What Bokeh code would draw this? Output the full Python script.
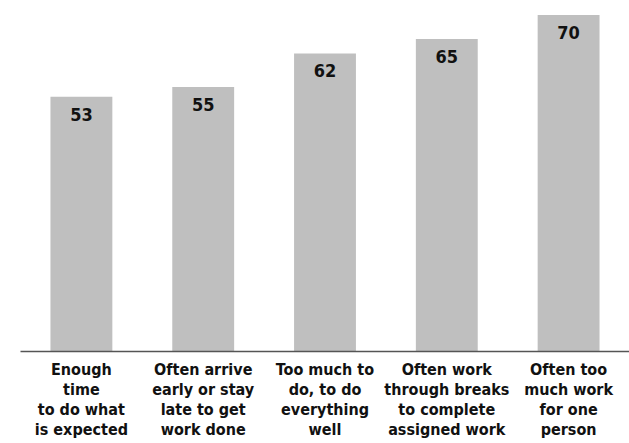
from bokeh.plotting import figure
from bokeh.models import ColumnDataSource, FactorRange, Range1d
from bokeh.core.properties import value
from bokeh.embed import file_html
from bokeh.resources import INLINE

# Share of respondents (%) agreeing with each workload statement
categories = [
    "Enough\ntime\nto do what\nis expected",
    "Often arrive\nearly or stay\nlate to get\nwork done",
    "Too much to\ndo, to do\neverything\nwell",
    "Often work\nthrough breaks\nto complete\nassigned work",
    "Often too\nmuch work\nfor one\nperson",
]
values = [53, 55, 62, 65, 70]
labels = [str(v) for v in values]

FONT = "DejaVu Sans Condensed, Liberation Sans, sans-serif"

source = ColumnDataSource(data=dict(cat=categories, val=values, lab=labels))

p = figure(
    width=629, height=443,
    x_range=FactorRange(*categories, range_padding=0),
    y_range=Range1d(0, 73),
    output_backend="svg", toolbar_location=None,
    min_border_left=20, min_border_right=0, min_border_top=0, min_border_bottom=92,
)

p.vbar(x="cat", top="val", width=0.508, source=source,
       fill_color="#bfbfbf", line_color=None)

p.text(x="cat", y="val", text="lab", source=source,
       text_align="center", text_baseline="top", y_offset=11,
       text_font=value(FONT), text_font_style="bold",
       text_font_size="18px", text_color="#111111")

p.yaxis.visible = False
p.xgrid.visible = False
p.ygrid.visible = False
p.outline_line_color = None

ax = p.xaxis[0]
ax.axis_line_color = "#555555"
ax.axis_line_width = 1.5
ax.major_tick_line_color = None
ax.minor_tick_line_color = None
ax.major_label_standoff = 2
ax.major_label_text_font = FONT
ax.major_label_text_font_style = "bold"
ax.major_label_text_font_size = "16px"
ax.major_label_text_color = "#111111"
ax.major_label_text_line_height = 1.06

open("out.html", "w").write(file_html(p, INLINE))
